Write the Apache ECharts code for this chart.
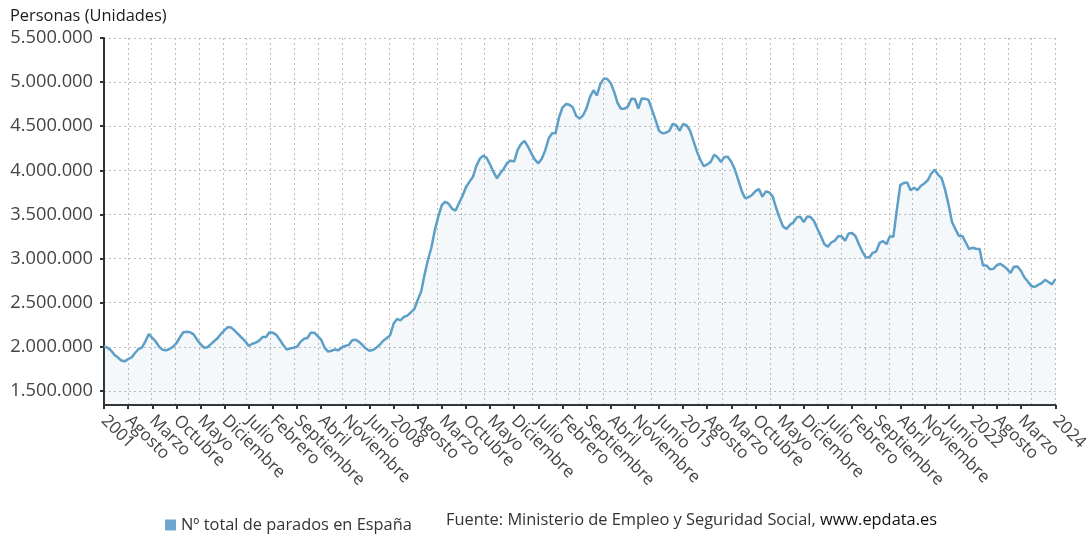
<!DOCTYPE html>
<html>
<head>
<meta charset="utf-8">
<script src="https://cdn.jsdelivr.net/npm/echarts@6/dist/echarts.min.js"></script>
<style>
html,body{margin:0;padding:0;background:#fff;}
#c{width:1091px;height:534px;}
</style>
</head>
<body>
<div id="c"></div>
<script>
// Monthly categories Jan 2001 .. Jan 2024
const startYear = 2001;
const monthNames = ['Enero','Febrero','Marzo','Abril','Mayo','Junio','Julio','Agosto','Septiembre','Octubre','Noviembre','Diciembre'];

// Paro registrado (thousands), one array per year
const y2001 = [2005,1990,1960,1910,1880,1845,1835,1860,1880,1930,1975,1990];
const y2002 = [2060,2145,2100,2060,2000,1965,1960,1975,2000,2040,2105,2165];
const y2003 = [2170,2165,2140,2080,2030,1990,1995,2030,2065,2100,2150,2190];
const y2004 = [2225,2215,2180,2140,2100,2060,2010,2035,2045,2070,2110,2110];
const y2005 = [2165,2160,2135,2080,2020,1970,1980,1990,2000,2055,2090,2100];
const y2006 = [2160,2160,2120,2080,1990,1945,1955,1970,1960,1995,2010,2020];
const y2007 = [2074,2080,2055,2020,1980,1954,1963,1990,2022,2068,2097,2129];
const y2008 = [2261,2316,2300,2339,2353,2390,2426,2530,2625,2818,2989,3128];
const y2009 = [3327,3481,3605,3644,3620,3564,3544,3629,3709,3808,3869,3924];
const y2010 = [4048,4130,4167,4142,4066,3982,3909,3970,4018,4086,4110,4100];
const y2011 = [4231,4299,4334,4269,4190,4122,4080,4131,4226,4361,4420,4422];
const y2012 = [4599,4712,4751,4744,4714,4615,4587,4625,4705,4833,4907,4848];
const y2013 = [4980,5040,5035,4989,4890,4763,4698,4699,4724,4811,4808,4701];
const y2014 = [4814,4812,4795,4684,4572,4449,4419,4427,4447,4527,4512,4448];
const y2015 = [4525,4512,4452,4333,4215,4120,4046,4067,4094,4176,4149,4094];
const y2016 = [4152,4153,4094,4011,3891,3767,3683,3697,3721,3764,3789,3702];
const y2017 = [3760,3750,3702,3573,3461,3363,3335,3382,3410,3467,3474,3412];
const y2018 = [3476,3470,3422,3335,3252,3162,3135,3182,3202,3254,3252,3202];
const y2019 = [3285,3289,3255,3163,3079,3015,3011,3065,3079,3177,3198,3163];
const y2020 = [3253,3246,3549,3832,3857,3862,3773,3802,3776,3826,3851,3889];
const y2021 = [3964,4008,3949,3911,3781,3614,3416,3333,3257,3257,3182,3106];
const y2022 = [3123,3111,3108,2922,2922,2880,2883,2924,2941,2914,2881,2837];
const y2023 = [2908,2911,2862,2788,2739,2688,2677,2702,2722,2759,2734,2707];
const y2024 = [2767];

const years = [y2001,y2002,y2003,y2004,y2005,y2006,y2007,y2008,y2009,y2010,y2011,y2012,
               y2013,y2014,y2015,y2016,y2017,y2018,y2019,y2020,y2021,y2022,y2023,y2024];

const yTicks = [1500000,2000000,2500000,3000000,3500000,4000000,4500000,5000000,5500000];

const categories = [];
const values = [];
years.forEach((arr, yi) => {
  arr.forEach((v, mi) => {
    categories.push((startYear + yi) + '-' + String(mi + 1).padStart(2, '0'));
    values.push(v * 1000);
  });
});
const lastIdx = categories.length - 1;

function labelText(cat) {
  const [y, m] = cat.split('-');
  return m === '01' ? y : monthNames[parseInt(m, 10) - 1];
}
function showIdx(i) {
  return (i % 7 === 0 && i <= lastIdx - 8) || i === lastIdx;
}
function fmtNum(v) {
  return String(Math.round(v)).replace(/\B(?=(\d{3})+(?!\d))/g, '.');
}

const FONT = '"Open Sans", "Noto Sans", sans-serif';
const chart = echarts.init(document.getElementById('c'));
chart.setOption({
  animation: false,
  backgroundColor: '#ffffff',
  textStyle: { fontFamily: FONT },
  title: {
    text: 'Personas (Unidades)',
    left: 5, top: 3,
    textStyle: { fontFamily: FONT, fontSize: 16.4, fontWeight: 'normal', color: '#1a1a1a' }
  },
  legend: {
    left: 160, top: 512,
    icon: 'rect', itemWidth: 11, itemHeight: 11, itemGap: 5,
    textStyle: { fontFamily: FONT, fontSize: 16.4, color: '#333' },
    data: ['Nº total de parados en España']
  },
  graphic: [{
    type: 'text', left: 446, top: 512,
    style: {
      text: '{a|Fuente: Ministerio de Empleo y Seguridad Social, }{b|www.epdata.es}',
      rich: {
        a: { fontFamily: FONT, fontSize: 16.4, fill: '#333' },
        b: { fontFamily: FONT, fontSize: 16.4, fill: '#111' }
      }
    }
  }],
  grid: { left: 104, right: 33, top: 38, bottom: 129, containLabel: false },
  xAxis: [{
    type: 'category',
    data: categories,
    boundaryGap: false,
    axisLine: { show: true, lineStyle: { color: '#333', width: 2 } },
    axisTick: { show: true, interval: (i) => showIdx(i), length: 4, lineStyle: { color: '#333', width: 2 } },
    axisLabel: {
      interval: (i) => showIdx(i),
      rotate: -45,
      margin: 13,
      showMinLabel: true,
      showMaxLabel: true,
      hideOverlap: false,
      fontFamily: FONT, fontSize: 17, color: '#444',
      formatter: (v) => labelText(v)
    },
    splitLine: { show: false }
  }, {
    type: 'value', min: 0, max: 40, interval: 1,
    position: 'top',
    axisLine: { show: false }, axisTick: { show: false }, axisLabel: { show: false },
    splitLine: { show: true, lineStyle: { color: '#bdbdbd', type: [2, 3], width: 1 } }
  }],
  yAxis: {
    type: 'value',
    min: 1340000, max: 5500000,
    axisLine: { show: true, lineStyle: { color: '#333', width: 2 } },
    axisTick: { show: true, length: 4, customValues: yTicks, lineStyle: { color: '#333', width: 2 } },
    axisLabel: {
      customValues: yTicks,
      margin: 11,
      showMinLabel: true,
      fontFamily: FONT, fontSize: 18.3, color: '#444',
      formatter: (v) => fmtNum(v)
    },
    splitLine: { show: true, lineStyle: { color: '#bdbdbd', type: [2, 3], width: 1 } }
  },
  series: [{
    name: 'Nº total de parados en España',
    type: 'line',
    data: values,
    xAxisIndex: 0,
    showSymbol: false,
    symbol: 'none',
    lineStyle: { color: '#5d9fc7', width: 2.5 },
    itemStyle: { color: '#6fa8cf' },
    areaStyle: { color: 'rgba(93,159,199,0.1)', origin: 'start' }
  }]
});
</script>
</body>
</html>
